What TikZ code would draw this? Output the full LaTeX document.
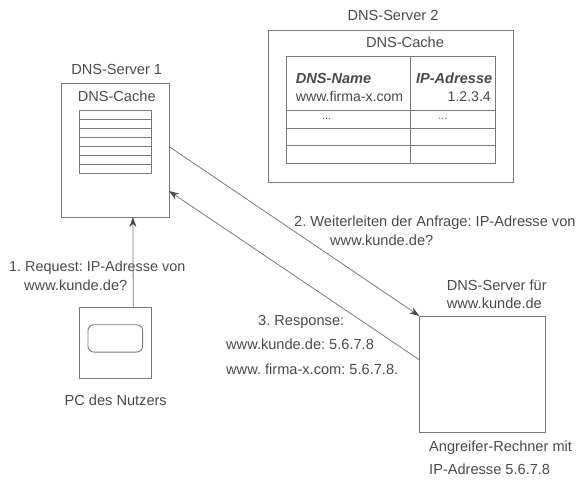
\documentclass[tikz,border=0pt]{standalone}
\usepackage{fontspec}
\setmainfont{Liberation Sans}
\usetikzlibrary{arrows.meta}
\definecolor{inkgray}{HTML}{4A4A4A}
\definecolor{linegray}{HTML}{7A7A7A}
\frenchspacing
\tikzset{
  box/.style={draw=linegray,line width=0.9pt,inner sep=0pt,outer sep=0pt},
  cell/.style={box,minimum width=72pt,minimum height=9pt},
  lbl/.style={inner sep=0pt,text=inkgray,font=\fontsize{14.6}{16}\selectfont,text height=13pt,text depth=3pt},
  conn/.style={draw=linegray,line width=0.8pt,-{Stealth[length=10pt,width=7pt,inkgray]}}
}
\begin{document}
\begin{tikzpicture}[x=1pt,y=-1pt]
  \useasboundingbox (0,0) rectangle (579,485);
  % DNS-Server 1
  \node[box,minimum width=108pt,minimum height=133.6pt] (srv1) at (115,150.3) {};
  \foreach \i in {0,...,6}
    \node[cell] (row\i) at (115,114.8+\i*9) {};
  \node[lbl] (srv1name) at (116.7,69.3) {DNS-Server 1};
  \node[lbl] (srv1cache) at (116.7,96.7) {DNS-Cache};
  % DNS-Server 2
  \node[box,minimum width=245pt,minimum height=152pt] (srv2) at (390.5,106) {};
  \node[box,minimum width=209pt,minimum height=107pt] (tbl) at (390.5,110.2) {};
  \coordinate (colt) at (410,56.7);
  \coordinate (colb) at (410,163.7);
  \draw[linegray,line width=0.9pt] (colt) to (colb);
  \foreach \y/\n in {110.3/a,128.3/b,145.7/c} {
    \coordinate (l\n) at (286,\y);
    \coordinate (r\n) at (495,\y);
    \draw[linegray,line width=0.9pt] (l\n) to (r\n);
  }
  \node[lbl] (srv2name) at (393,15.3) {DNS-Server 2};
  \node[lbl] (srv2cache) at (405,42.7) {DNS-Cache};
  \node[lbl,anchor=west,font=\fontsize{14.6}{16}\selectfont\bfseries\itshape] (hname) at (295.7,78.7) {DNS-Name};
  \node[lbl,anchor=east,font=\fontsize{14.6}{16}\selectfont\bfseries\itshape] (haddr) at (492.5,78.7) {IP-Adresse};
  \node[lbl,anchor=west,font=\fontsize{14.1}{16}\selectfont] (cname) at (295.7,96.7) {www.firma-x.com};
  \node[lbl,anchor=east,font=\fontsize{14.1}{16}\selectfont] (caddr) at (491,96.7) {1.2.3.4};
  \node[lbl,font=\fontsize{11}{12}\selectfont] (dotsa) at (326.7,114) {...};
  \node[lbl,font=\fontsize{11}{12}\selectfont] (dotsb) at (443,114) {...};
  % PC
  \node[box,minimum width=72pt,minimum height=71.7pt] (pc) at (115,342.9) {};
  \node[box,rounded corners=6pt,minimum width=54.7pt,minimum height=27.3pt] (screen) at (115.3,338.4) {};
  \node[lbl] (pcname) at (115.7,400.7) {PC des Nutzers};
  % Angreifer
  \node[box,minimum width=125.7pt,minimum height=116.7pt] (atk) at (482.2,374.3) {};
  \node[lbl,anchor=west] (atkup) at (446.7,285) {DNS-Server für};
  \node[lbl,anchor=west] (atkupb) at (446.7,303) {www.kunde.de};
  \node[lbl,anchor=west] (atkdn) at (429,446) {Angreifer-Rechner mit};
  \node[lbl,anchor=west] (atkdnb) at (429,469) {IP-Adresse 5.6.7.8};
  % labels of the steps
  \node[lbl,anchor=west,font=\fontsize{14.4}{16}\selectfont] (reqa) at (9,266.7) {1. Request: IP-Adresse von};
  \node[lbl,anchor=west] (reqb) at (24,285) {www.kunde.de?};
  \node[lbl,anchor=west] (fwda) at (294,221.7) {2. Weiterleiten der Anfrage: IP-Adresse von};
  \node[lbl,anchor=west] (fwdb) at (330,240) {www.kunde.de?};
  \node[lbl,anchor=west] (resa) at (258,320.7) {3. Response:};
  \node[lbl,anchor=west] (resb) at (226,344.3) {www.kunde.de: 5.6.7.8};
  \node[lbl,anchor=west] (resc) at (226,369) {www. firma-x.com: 5.6.7.8.};
  % connectors
  \draw[conn] (pc.63.4) to (srv1.-75);
  \draw[conn] (srv1.4.55) to (atk.north west);
  \draw[conn] (atk.167.2) to (srv1.-37);
\end{tikzpicture}
\end{document}
